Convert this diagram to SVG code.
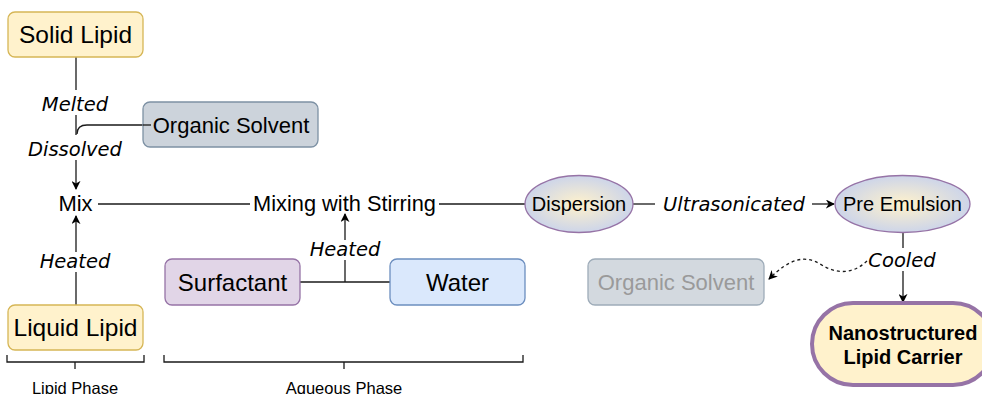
<svg xmlns="http://www.w3.org/2000/svg" width="982" height="394" viewBox="0 0 982 394">
<style>
.t{font-family:"Liberation Sans",Arial,sans-serif;fill:#000;text-anchor:middle}
.i{font-family:"DejaVu Sans",Verdana,sans-serif;font-style:italic;fill:#000;text-anchor:middle;font-size:19.5px}
.ln{fill:none;stroke:#1a1a1a;stroke-width:1.3}
.yl{fill:#fff2cc;stroke:#d6b656;stroke-width:1.3}
.gr{fill:#ccd3db;stroke:#7d91a4;stroke-width:1.3}
.el{fill:url(#rg);stroke:#9673a6;stroke-width:1.3}
</style>
<defs>
<marker id="ar" viewBox="0 0 10 10" refX="9" refY="5" markerWidth="9" markerHeight="9" markerUnits="userSpaceOnUse" orient="auto">
<path d="M0,0 L10,5 L0,10 L3,5 Z" fill="#000"/>
</marker>
<radialGradient id="rg" cx="0.5" cy="0.5" r="0.55">
<stop offset="0" stop-color="#fff2cc"/>
<stop offset="1" stop-color="#c8d2ec"/>
</radialGradient>
</defs>
<g id="connectors">
<path class="ln" d="M76,57 V90"/>
<path class="ln" d="M76,115 V135"/>
<path class="ln" d="M151,125 H87 Q77,125 77,134"/>
<path class="ln" d="M76,160 V189" marker-end="url(#ar)"/>
<path class="ln" d="M76,305 V272"/>
<path class="ln" d="M76,252 V216" marker-end="url(#ar)"/>
<path class="ln" d="M98,204 H250"/>
<path class="ln" d="M439,204 H525"/>
<path class="ln" d="M300,282 H390"/>
<path class="ln" d="M345,282 V260"/>
<path class="ln" d="M345,240 V214" marker-end="url(#ar)"/>
<path class="ln" d="M633,204 H655"/>
<path class="ln" d="M812,204 H834" marker-end="url(#ar)"/>
<path class="ln" d="M903,232 V248"/>
<path class="ln" d="M903,271 V302" marker-end="url(#ar)"/>
<path class="ln" d="M867,261 C852,275 836,274 820,264 C805,255 790,258 769,279" stroke-dasharray="3,3" marker-end="url(#ar)"/>
<path class="ln" d="M7,355 V362 H144 V355 M75,362 V369"/>
<path class="ln" d="M164,355 V362 H523 V355 M344,362 V369"/>
</g>
<g id="solid-lipid"><rect class="yl" x="8" y="12" width="135" height="45" rx="7"/><text class="t" x="75.5" y="43" font-size="24.5">Solid Lipid</text></g>
<g id="organic-solvent"><rect class="gr" x="143" y="102" width="175" height="45" rx="7"/><text class="t" x="231" y="133" font-size="22">Organic Solvent</text></g>
<path class="ln" d="M143,125 H151"/>
<g id="label-melted"><text class="i" x="75" y="111">Melted</text></g>
<g id="label-dissolved"><text class="i" x="75" y="156">Dissolved</text></g>
<g id="mix"><text class="t" x="75.5" y="211" font-size="22">Mix</text></g>
<g id="label-heated-1"><text class="i" x="75" y="268">Heated</text></g>
<g id="liquid-lipid"><rect class="yl" x="8" y="305" width="135" height="45" rx="7"/><text class="t" x="75.5" y="336" font-size="24.5">Liquid Lipid</text></g>
<g id="mixing"><text class="t" x="344.5" y="211" font-size="21.8">Mixing with Stirring</text></g>
<g id="label-heated-2"><text class="i" x="345" y="256">Heated</text></g>
<g id="surfactant"><rect x="165" y="259" width="135" height="46" rx="7" fill="#e1d5e7" stroke="#9673a6" stroke-width="1.3"/><text class="t" x="232.5" y="290.5" font-size="24">Surfactant</text></g>
<g id="water"><rect x="390" y="259" width="135" height="46" rx="7" fill="#dae8fc" stroke="#6c8ebf" stroke-width="1.3"/><text class="t" x="457.5" y="290.5" font-size="24">Water</text></g>
<g id="dispersion"><ellipse class="el" cx="579" cy="204" rx="54" ry="28.5"/><text class="t" x="579" y="211" font-size="20">Dispersion</text></g>
<g id="label-ultrasonicated"><text class="i" x="734" y="211">Ultrasonicated</text></g>
<g id="pre-emulsion"><ellipse class="el" cx="902.5" cy="204" rx="67.5" ry="28.5"/><text class="t" x="902.5" y="211" font-size="20">Pre Emulsion</text></g>
<g id="label-cooled"><text class="i" x="902" y="267">Cooled</text></g>
<g id="organic-solvent-2"><rect x="588" y="259" width="176" height="46" rx="7" fill="#d3d9df" stroke="#9eacb9" stroke-width="1.3"/><text class="t" x="676" y="290" font-size="22" style="fill:#9a9a9a">Organic Solvent</text></g>
<g id="nlc"><rect x="812" y="303" width="182" height="82" rx="41" fill="#fff2cc" stroke="#9673a6" stroke-width="4"/><text class="t" x="903" y="340" font-size="20" font-weight="bold">Nanostructured</text><text class="t" x="903" y="364" font-size="20" font-weight="bold">Lipid Carrier</text></g>
<g id="lipid-phase"><text class="t" x="75" y="394" font-size="16.5">Lipid Phase</text></g>
<g id="aqueous-phase"><text class="t" x="344" y="394" font-size="16.5">Aqueous Phase</text></g>
</svg>
